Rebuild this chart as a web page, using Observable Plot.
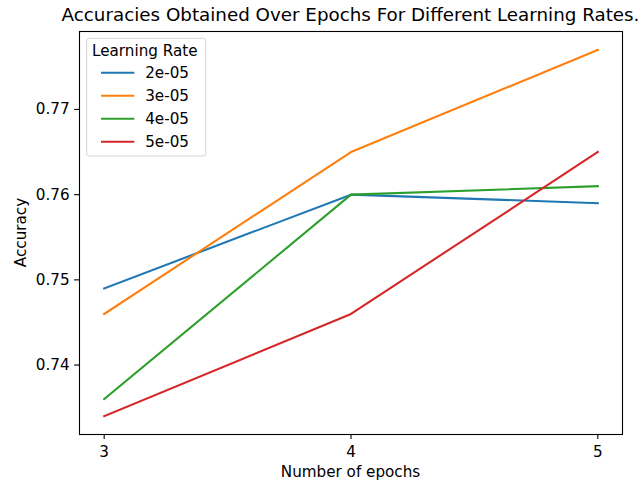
<!DOCTYPE html>
<html>
<head>
<meta charset="utf-8">
<script src="https://cdn.jsdelivr.net/npm/d3@7"></script>
<script src="https://cdn.jsdelivr.net/npm/@observablehq/plot@0.6"></script>
<style>
  html, body { margin: 0; padding: 0; background: #fff; }
  #chart { width: 638px; height: 484px; }
</style>
</head>
<body>
<div id="chart"></div>
<script>
// Accuracy per epoch for each learning rate
const epochs = [3, 4, 5];
const learningRates = ["2e-05", "3e-05", "4e-05", "5e-05"];
const acc2e05 = [0.749, 0.760, 0.759];
const acc3e05 = [0.746, 0.765, 0.777];
const acc4e05 = [0.736, 0.760, 0.761];
const acc5e05 = [0.734, 0.746, 0.765];
const yTicks = [0.74, 0.75, 0.76, 0.77];
const seriesColors = ["#1f77b4", "#ff7f0e", "#2ca02c", "#d62728"];

const titleText = "Accuracies Obtained Over Epochs For Different Learning Rates.";
const xLabel = "Number of epochs";
const yLabel = "Accuracy";
const legendTitle = "Learning Rate";

const seriesValues = [acc2e05, acc3e05, acc4e05, acc5e05];
const rows = learningRates.flatMap((rate, i) =>
  epochs.map((e, j) => ({ epoch: e, accuracy: seriesValues[i][j], rate }))
);

// Padded domains (5% of data range on each side)
const allAcc = seriesValues.flat();
const yMin = d3.min(allAcc), yMax = d3.max(allAcc);
const yPad = (yMax - yMin) * 0.05;
const xPad = (d3.max(epochs) - d3.min(epochs)) * 0.05;

const W = 638, H = 484;
const mL = 79, mR = 16, mT = 31, mB = 50;
const font = "DejaVu Sans, sans-serif";
const fs = "15.2px";

const plot = Plot.plot({
  width: W,
  height: H,
  marginLeft: mL,
  marginRight: mR,
  marginTop: mT,
  marginBottom: mB,
  style: { fontFamily: font, fontSize: fs, color: "#000", background: "#fff", overflow: "visible" },
  x: { domain: [d3.min(epochs) - xPad, d3.max(epochs) + xPad] },
  y: { domain: [yMin - yPad, yMax + yPad] },
  color: { domain: learningRates, range: seriesColors },
  marks: [
    Plot.line(rows, { x: "epoch", y: "accuracy", stroke: "rate", strokeWidth: 2.08, strokeLinejoin: "round", strokeLinecap: "square" }),
    Plot.frame({ stroke: "#000", strokeWidth: 1.1 }),
    Plot.axisX({ ticks: epochs, tickFormat: d3.format("d"), tickSize: 4.9, tickPadding: 7, label: null, strokeWidth: 1.1 }),
    Plot.axisY({ ticks: yTicks, tickFormat: d3.format(".2f"), tickSize: 4.9, tickPadding: 5, label: null, strokeWidth: 1.1 })
  ]
});

document.getElementById("chart").appendChild(plot);

const svg = d3.select(plot);
const color = plot.scale("color");
const cx = (mL + (W - mR)) / 2;

// Title
svg.append("text")
  .attr("x", cx).attr("y", 20.5)
  .attr("text-anchor", "middle")
  .attr("font-family", font).attr("font-size", "18.3px").attr("fill", "#000")
  .text(titleText);

// Axis labels
svg.append("text")
  .attr("x", cx).attr("y", 476.5)
  .attr("text-anchor", "middle")
  .attr("font-family", font).attr("font-size", fs).attr("fill", "#000")
  .text(xLabel);

svg.append("text")
  .attr("transform", `translate(25.5,${(mT + (H - mB)) / 2}) rotate(-90)`)
  .attr("text-anchor", "middle")
  .attr("font-family", font).attr("font-size", fs).attr("fill", "#000")
  .text(yLabel);

// Legend
const lg = svg.append("g")
  .attr("transform", "translate(86.7,38.3)")
  .attr("text-anchor", "start");
lg.append("rect")
  .attr("x", 0).attr("y", 0).attr("width", 119).attr("height", 117.7)
  .attr("rx", 2.5).attr("ry", 2.5)
  .attr("fill", "#fff").attr("fill-opacity", 0.8)
  .attr("stroke", "#d5d5d5").attr("stroke-width", 1);
lg.append("text")
  .attr("x", 5.3).attr("y", 17.7)
  .attr("font-family", font).attr("font-size", fs).attr("fill", "#000")
  .text(legendTitle);
const itemY0 = 34.4, itemStep = 23;
learningRates.forEach((rate, i) => {
  const y = itemY0 + i * itemStep;
  lg.append("line")
    .attr("x1", 14.3).attr("x2", 47.6).attr("y1", y).attr("y2", y)
    .attr("stroke", color.apply(rate)).attr("stroke-width", 2.08);
  lg.append("text")
    .attr("x", 58.5).attr("y", y).attr("dy", "0.36em")
    .attr("font-family", font).attr("font-size", fs).attr("fill", "#000")
    .text(rate);
});
</script>
</body>
</html>
